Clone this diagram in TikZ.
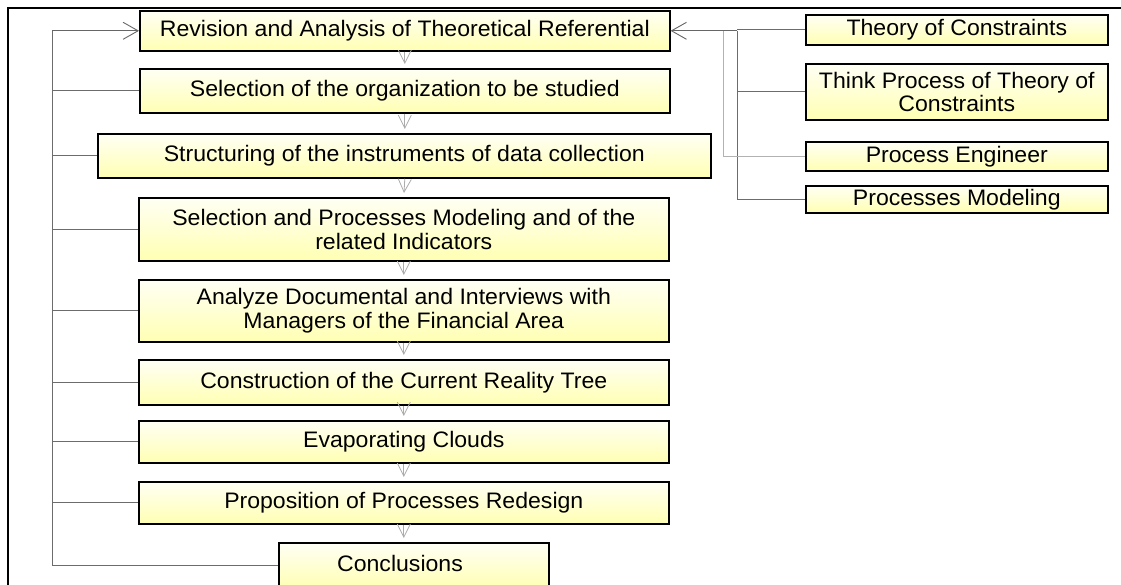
\documentclass[tikz,border=0pt]{standalone}
\usepackage{fontspec}
\setmainfont{Liberation Sans}[FakeStretch=1.03]
\usetikzlibrary{arrows.meta,shadows}
\begin{document}
\begin{tikzpicture}[x=1pt,y=-1pt,
  box/.style={draw=black, line width=1.6pt, top color=yellow!4, bottom color=yellow!30,
    drop shadow={shadow xshift=1.2pt,shadow yshift=-1.2pt,fill=gray!70,opacity=1},
    anchor=north west, inner sep=0pt, align=center,
    font=\fontsize{22.4}{23.5}\selectfont},
  txt/.style={inner sep=0pt, font=\fontsize{22.4}{23.5}\selectfont},
  gline/.style={draw=gray!85!black, line width=0.8pt},
  arr/.style={draw=gray!80!black, line width=0.8pt, -{Straight Barb[length=15pt,width=17pt,line width=0.9pt]}},
  darr/.style={draw=gray!65, line width=0.8pt, shorten >=4pt, -{Straight Barb[length=13pt,width=13pt,line width=0.8pt]}}
]
\useasboundingbox (0,0) rectangle (1121,585);
\fill[white] (0,0) rectangle (1121,585);
% frame
\draw[line width=2pt] (8,600) -- (8,8) -- (1130,8);
% main boxes
\node[box, minimum width=530, minimum height=40] (b1) at (139,10) {Revision and Analysis of Theoretical Referential};
\node[box, minimum width=530, minimum height=44] (b2) at (139,68) {Selection of the organization to be studied};
\node[box, minimum width=613, minimum height=44] (b3) at (97,133) {Structuring of the instruments of data collection};
\node[box, minimum width=530, minimum height=63] (b4) at (138,197) {Selection and Processes Modeling and of the\\related Indicators};
\node[box, minimum width=530, minimum height=62] (b5) at (138,279) {Analyze Documental and Interviews with\\Managers of the Financial Area};
\node[box, minimum width=530, minimum height=45] (b6) at (138,359) {Construction of the Current Reality Tree};
\node[box, minimum width=530, minimum height=42] (b7) at (138,420) {Evaporating Clouds};
\node[box, minimum width=530, minimum height=42] (b8) at (138,481) {Proposition of Processes Redesign};
\node[box, minimum width=270, minimum height=46] (b9) at (278,542) {};
\node[txt] (t9) at (400,563) {Conclusions};
% right boxes
\node[box, minimum width=302, minimum height=30] (r1) at (805,14) {Theory of Constraints};
\node[box, minimum width=302, minimum height=56] (r2) at (805,63) {Think Process of Theory of\\Constraints};
\node[box, minimum width=302, minimum height=29] (r3) at (805,141) {Process Engineer};
\node[box, minimum width=302, minimum height=27] (r4) at (805,185) {Processes Modeling};
% down arrows
\draw[darr] (b1.south) -- (b2.north);
\draw[darr] (b2.south) -- (b2.south |- b3.north);
\draw[darr] (b2.south |- b3.south) -- (b4.north);
\draw[darr] (b4.south) -- (b5.north);
\draw[darr] (b5.south) -- (b6.north);
\draw[darr] (b6.south) -- (b7.north);
\draw[darr] (b7.south) -- (b8.north);
\draw[darr] (b8.south) -- (b8.south |- b9.north);
% left feedback
\coordinate (Lx) at (52,0);
\draw[gline] (b9.west) -| (Lx |- b1.west);
\draw[arr] (Lx |- b1.west) -- (b1.west);
\foreach \b in {b2,b3,b4,b5,b6,b7,b8}{
  \draw[gline] (\b.west) -- (Lx |- \b.west);
}
% right side
\coordinate (R1) at (723,0);
\coordinate (R2) at (737,0);
\draw[gline] (R2 |- b1.east) |- (r4.west);
\draw[gline, draw=gray!60] (R1 |- b1.east) |- (r3.west);
\draw[gline] (r1.west) -- (R2 |- r1.west);
\draw[gline] (r2.west) -- (R2 |- r2.west);
\draw[arr] (R2 |- b1.east) -- (b1.east);
\end{tikzpicture}
\end{document}
